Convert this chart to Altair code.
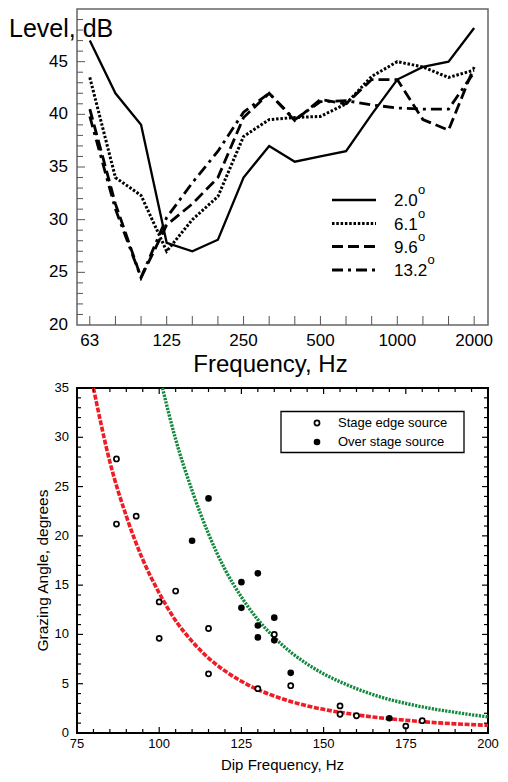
import altair as alt
import pandas as pd

FONT = "Liberation Sans"

# ---------------- top chart data ----------------
bands = ["63", "80", "100", "125", "160", "200", "250", "315", "400", "500",
         "630", "800", "1000", "1250", "1600", "2000"]
band_labels_shown = [0, 3, 6, 9, 12, 15]
angles = ["2.0", "6.1", "9.6", "13.2"]
level_2_0 = [47.0, 42.0, 39.0, 27.8, 27.0, 28.1, 34.0, 37.0, 35.5, 36.0, 36.5, 40.0, 43.3, 44.5, 45.0, 48.2]
level_6_1 = [43.5, 34.0, 32.3, 27.0, 30.0, 32.2, 37.9, 39.5, 39.7, 39.8, 41.0, 43.6, 45.0, 44.5, 43.5, 44.2]
level_9_6 = [40.5, 31.5, 24.5, 29.5, 31.5, 34.0, 39.7, 42.0, 39.4, 41.4, 41.0, 43.3, 43.3, 39.5, 38.5, 44.5]
level_13_2 = [39.8, 31.0, 24.5, 30.2, 33.5, 36.5, 40.2, 42.0, 39.5, 41.2, 41.3, 40.9, 40.6, 40.5, 40.5, 44.0]
levels = [level_2_0, level_6_1, level_9_6, level_13_2]
y_ticks_top = [20, 25, 30, 35, 40, 45]

# ---------------- bottom chart data ----------------
edge_freq = [87, 87, 93, 100, 100, 105, 115, 115, 130, 135, 140, 155, 155, 160, 175, 180]
edge_angle = [27.8, 21.2, 22.0, 13.3, 9.6, 14.4, 10.6, 6.0, 4.5, 10.0, 4.8, 2.75, 1.9, 1.75, 0.7, 1.25]
over_freq = [110, 115, 125, 125, 130, 130, 130, 135, 135, 140, 170]
over_angle = [19.5, 23.8, 15.3, 12.7, 16.2, 10.9, 9.7, 11.7, 9.4, 6.1, 1.5]
red_freq = [80, 85, 90, 95, 100, 105, 110, 115, 120, 125, 130, 135, 140, 145, 150,
            155, 160, 165, 170, 175, 180, 185, 190, 195, 200]
red_angle = [35.0, 27.5, 22.0, 17.6, 14.2, 11.4, 9.3, 7.6, 6.3, 5.25, 4.4, 3.75, 3.2, 2.75,
             2.4, 2.1, 1.85, 1.62, 1.45, 1.3, 1.15, 1.03, 0.93, 0.85, 0.78]
green_freq = [101, 105, 110, 115, 120, 125, 130, 135, 140, 145, 150, 155, 160, 165, 170,
              175, 180, 185, 190, 195, 200]
green_angle = [35.0, 29.8, 24.6, 20.2, 16.6, 13.8, 11.5, 9.7, 8.2, 7.0, 6.0, 5.2, 4.5, 3.9,
               3.4, 3.0, 2.65, 2.35, 2.1, 1.85, 1.65]
x_ticks_bottom = [75, 100, 125, 150, 175, 200]
y_ticks_bottom = [0, 5, 10, 15, 20, 25, 30, 35]
legend_names = ["Stage edge source", "Over stage source"]

one = pd.DataFrame({"k": [0]})

# ================= TOP CHART =================
W1, H1 = 411, 316
xs1 = alt.Scale(domain=[-0.5, 15.54], nice=False, zero=False)
ys1 = alt.Scale(domain=[20, 50], nice=False, zero=False)

dashes = [None, [2.5, 1.8], [11, 5], [11, 5, 3, 5]]
widths = [2.3, 3.0, 2.8, 2.8]

top_layers = []
for i, (name, vals) in enumerate(zip(angles, levels)):
    df = pd.DataFrame({"band": list(range(len(bands))), "level": vals})
    kw = dict(color="black", strokeWidth=widths[i])
    if dashes[i] is not None:
        kw["strokeDash"] = dashes[i]
    top_layers.append(
        alt.Chart(df).mark_line(**kw).encode(
            x=alt.X("band:Q", scale=xs1, axis=None),
            y=alt.Y("level:Q", scale=ys1, axis=None),
        )
    )

# inward ticks
tick_x_df = pd.DataFrame({"band": list(range(len(bands)))})
top_layers.append(alt.Chart(tick_x_df).mark_rule(color="#555", strokeWidth=1).encode(
    x=alt.X("band:Q", scale=xs1, axis=None), y=alt.value(H1), y2=alt.value(H1 - 9)))
ymin_df = pd.DataFrame({"v": [v for v in range(21, 50) if v % 5 != 0]})
ymaj_df = pd.DataFrame({"v": [v for v in range(25, 50, 5)]})
top_layers.append(alt.Chart(ymin_df).mark_rule(color="#555", strokeWidth=1).encode(
    y=alt.Y("v:Q", scale=ys1, axis=None), x=alt.value(0), x2=alt.value(6)))
top_layers.append(alt.Chart(ymaj_df).mark_rule(color="#555", strokeWidth=1).encode(
    y=alt.Y("v:Q", scale=ys1, axis=None), x=alt.value(0), x2=alt.value(8)))

# tick labels (text marks through the scales)
xlab1 = pd.DataFrame({"band": band_labels_shown, "label": [bands[i] for i in band_labels_shown]})
top_layers.append(alt.Chart(xlab1).mark_text(fontSize=17, font=FONT, align="center",
                                             baseline="alphabetic", color="black").encode(
    x=alt.X("band:Q", scale=xs1, axis=None), y=alt.value(H1 + 21), text="label:N"))
ylab1 = pd.DataFrame({"v": y_ticks_top, "label": [str(v) for v in y_ticks_top]})
top_layers.append(alt.Chart(ylab1).mark_text(fontSize=17, font=FONT, align="right",
                                             baseline="middle", color="black").encode(
    y=alt.Y("v:Q", scale=ys1, axis=None), x=alt.value(-9), text="label:N"))

# titles
top_layers.append(alt.Chart(one).mark_text(text="Level, dB", fontSize=25, font=FONT, align="left",
                                           baseline="alphabetic", color="black").encode(
    x=alt.value(-68), y=alt.value(28)))
top_layers.append(alt.Chart(one).mark_text(text="Frequency, Hz", fontSize=24, font=FONT, align="center",
                                           baseline="alphabetic", color="black").encode(
    x=alt.value(W1 / 2 - 12), y=alt.value(H1 + 47)))

# legend
row_y = [191, 214.5, 237.5, 261]
for i, name in enumerate(angles):
    kw = dict(color="black", strokeWidth=widths[i])
    if dashes[i] is not None:
        kw["strokeDash"] = dashes[i]
    top_layers.append(alt.Chart(one).mark_rule(**kw).encode(
        x=alt.value(255), x2=alt.value(299), y=alt.value(row_y[i])))
    top_layers.append(alt.Chart(one).mark_text(text=name, fontSize=17, font=FONT, align="left",
                                               baseline="alphabetic", color="black").encode(
        x=alt.value(317), y=alt.value(row_y[i] + 6)))
    wtxt = sum(9.45 if c.isdigit() else 4.7 for c in name)
    top_layers.append(alt.Chart(one).mark_text(text="o", fontSize=13, font=FONT, align="left",
                                               baseline="alphabetic", color="black").encode(
        x=alt.value(317 + wtxt + 0.5), y=alt.value(row_y[i] - 6)))

top = alt.layer(*top_layers).properties(
    width=W1, height=H1, view=alt.ViewBackground(stroke="#666", strokeWidth=1.5))

# ================= BOTTOM CHART =================
W2, H2 = 411, 345
xs2 = alt.Scale(domain=[75, 200], nice=False, zero=False)
ys2 = alt.Scale(domain=[0, 35], nice=False, zero=False)

bl = []
red_df = pd.DataFrame({"f": red_freq, "a": red_angle})
green_df = pd.DataFrame({"f": green_freq, "a": green_angle})
bl.append(alt.Chart(red_df).mark_line(color="#ee1c25", strokeWidth=3.6, strokeDash=[5, 1.6],
                                      interpolate="monotone").encode(
    x=alt.X("f:Q", scale=xs2, axis=None), y=alt.Y("a:Q", scale=ys2, axis=None)))
bl.append(alt.Chart(green_df).mark_line(color="#12893d", strokeWidth=3.4, strokeDash=[2.2, 1.2],
                                        interpolate="monotone").encode(
    x=alt.X("f:Q", scale=xs2, axis=None), y=alt.Y("a:Q", scale=ys2, axis=None)))

edge_df = pd.DataFrame({"f": edge_freq, "a": edge_angle})
over_df = pd.DataFrame({"f": over_freq, "a": over_angle})
bl.append(alt.Chart(edge_df).mark_circle(size=26, fill="white", stroke="black", strokeWidth=1.7,
                                         opacity=1).encode(
    x=alt.X("f:Q", scale=xs2, axis=None), y=alt.Y("a:Q", scale=ys2, axis=None)))
bl.append(alt.Chart(over_df).mark_circle(size=44, color="black", opacity=1).encode(
    x=alt.X("f:Q", scale=xs2, axis=None), y=alt.Y("a:Q", scale=ys2, axis=None)))

# ticks on all four sides (inward)
xmin2 = pd.DataFrame({"v": [v for v in range(80, 200, 5) if v % 25 != 0]})
xmaj2 = pd.DataFrame({"v": [v for v in range(100, 200, 25)]})
ymin2 = pd.DataFrame({"v": [v for v in range(1, 35) if v % 5 != 0]})
ymaj2 = pd.DataFrame({"v": [v for v in range(5, 35, 5)]})
for d, ln in ((xmin2, 4), (xmaj2, 6)):
    bl.append(alt.Chart(d).mark_rule(color="black", strokeWidth=1.2).encode(
        x=alt.X("v:Q", scale=xs2, axis=None), y=alt.value(H2), y2=alt.value(H2 - ln)))
    bl.append(alt.Chart(d).mark_rule(color="black", strokeWidth=1.2).encode(
        x=alt.X("v:Q", scale=xs2, axis=None), y=alt.value(0), y2=alt.value(ln)))
for d, ln in ((ymin2, 4), (ymaj2, 6)):
    bl.append(alt.Chart(d).mark_rule(color="black", strokeWidth=1.2).encode(
        y=alt.Y("v:Q", scale=ys2, axis=None), x=alt.value(0), x2=alt.value(ln)))
    bl.append(alt.Chart(d).mark_rule(color="black", strokeWidth=1.2).encode(
        y=alt.Y("v:Q", scale=ys2, axis=None), x=alt.value(W2), x2=alt.value(W2 - ln)))

# tick labels
xlab2 = pd.DataFrame({"v": x_ticks_bottom, "label": [str(v) for v in x_ticks_bottom]})
bl.append(alt.Chart(xlab2).mark_text(fontSize=13, font=FONT, align="center", baseline="top",
                                     color="black").encode(
    x=alt.X("v:Q", scale=xs2, axis=None), y=alt.value(H2 + 5), text="label:N"))
ylab2 = pd.DataFrame({"v": y_ticks_bottom, "label": [str(v) for v in y_ticks_bottom]})
bl.append(alt.Chart(ylab2).mark_text(fontSize=13, font=FONT, align="right", baseline="middle",
                                     color="black").encode(
    y=alt.Y("v:Q", scale=ys2, axis=None), x=alt.value(-8), text="label:N"))

# legend box
bl.append(alt.Chart(one).mark_rect(fill="white", stroke="black", strokeWidth=1.3).encode(
    x=alt.value(204), x2=alt.value(387), y=alt.value(23.5), y2=alt.value(64.5)))
bl.append(alt.Chart(one).mark_circle(size=26, fill="white", stroke="black", strokeWidth=1.7,
                                     opacity=1).encode(x=alt.value(240), y=alt.value(35)))
bl.append(alt.Chart(one).mark_circle(size=44, color="black", opacity=1).encode(
    x=alt.value(240), y=alt.value(54)))
for i, name in enumerate(legend_names):
    bl.append(alt.Chart(one).mark_text(text=name, fontSize=13, font=FONT, align="left",
                                       baseline="middle", color="black").encode(
        x=alt.value(261), y=alt.value([35, 54][i])))

# titles
bl.append(alt.Chart(one).mark_text(text="Dip Frequency, Hz", fontSize=15, font=FONT, align="center",
                                   baseline="alphabetic", color="black").encode(
    x=alt.value(W2 / 2), y=alt.value(H2 + 37)))
bl.append(alt.Chart(one).mark_text(text="Grazing Angle, degrees", fontSize=15.5, font=FONT,
                                   align="center", baseline="alphabetic", angle=270,
                                   color="black").encode(
    x=alt.value(-29), y=alt.value(H2 / 2 + 10)))

bottom = alt.layer(*bl).properties(
    width=W2, height=H2, view=alt.ViewBackground(stroke="black", strokeWidth=2))

chart = alt.vconcat(top, bottom, spacing=1).properties(
    padding={"left": 0, "top": 0, "right": 0, "bottom": 0},
    background="white",
)

chart.save("out.html", embed_options={"renderer": "svg", "actions": False})
